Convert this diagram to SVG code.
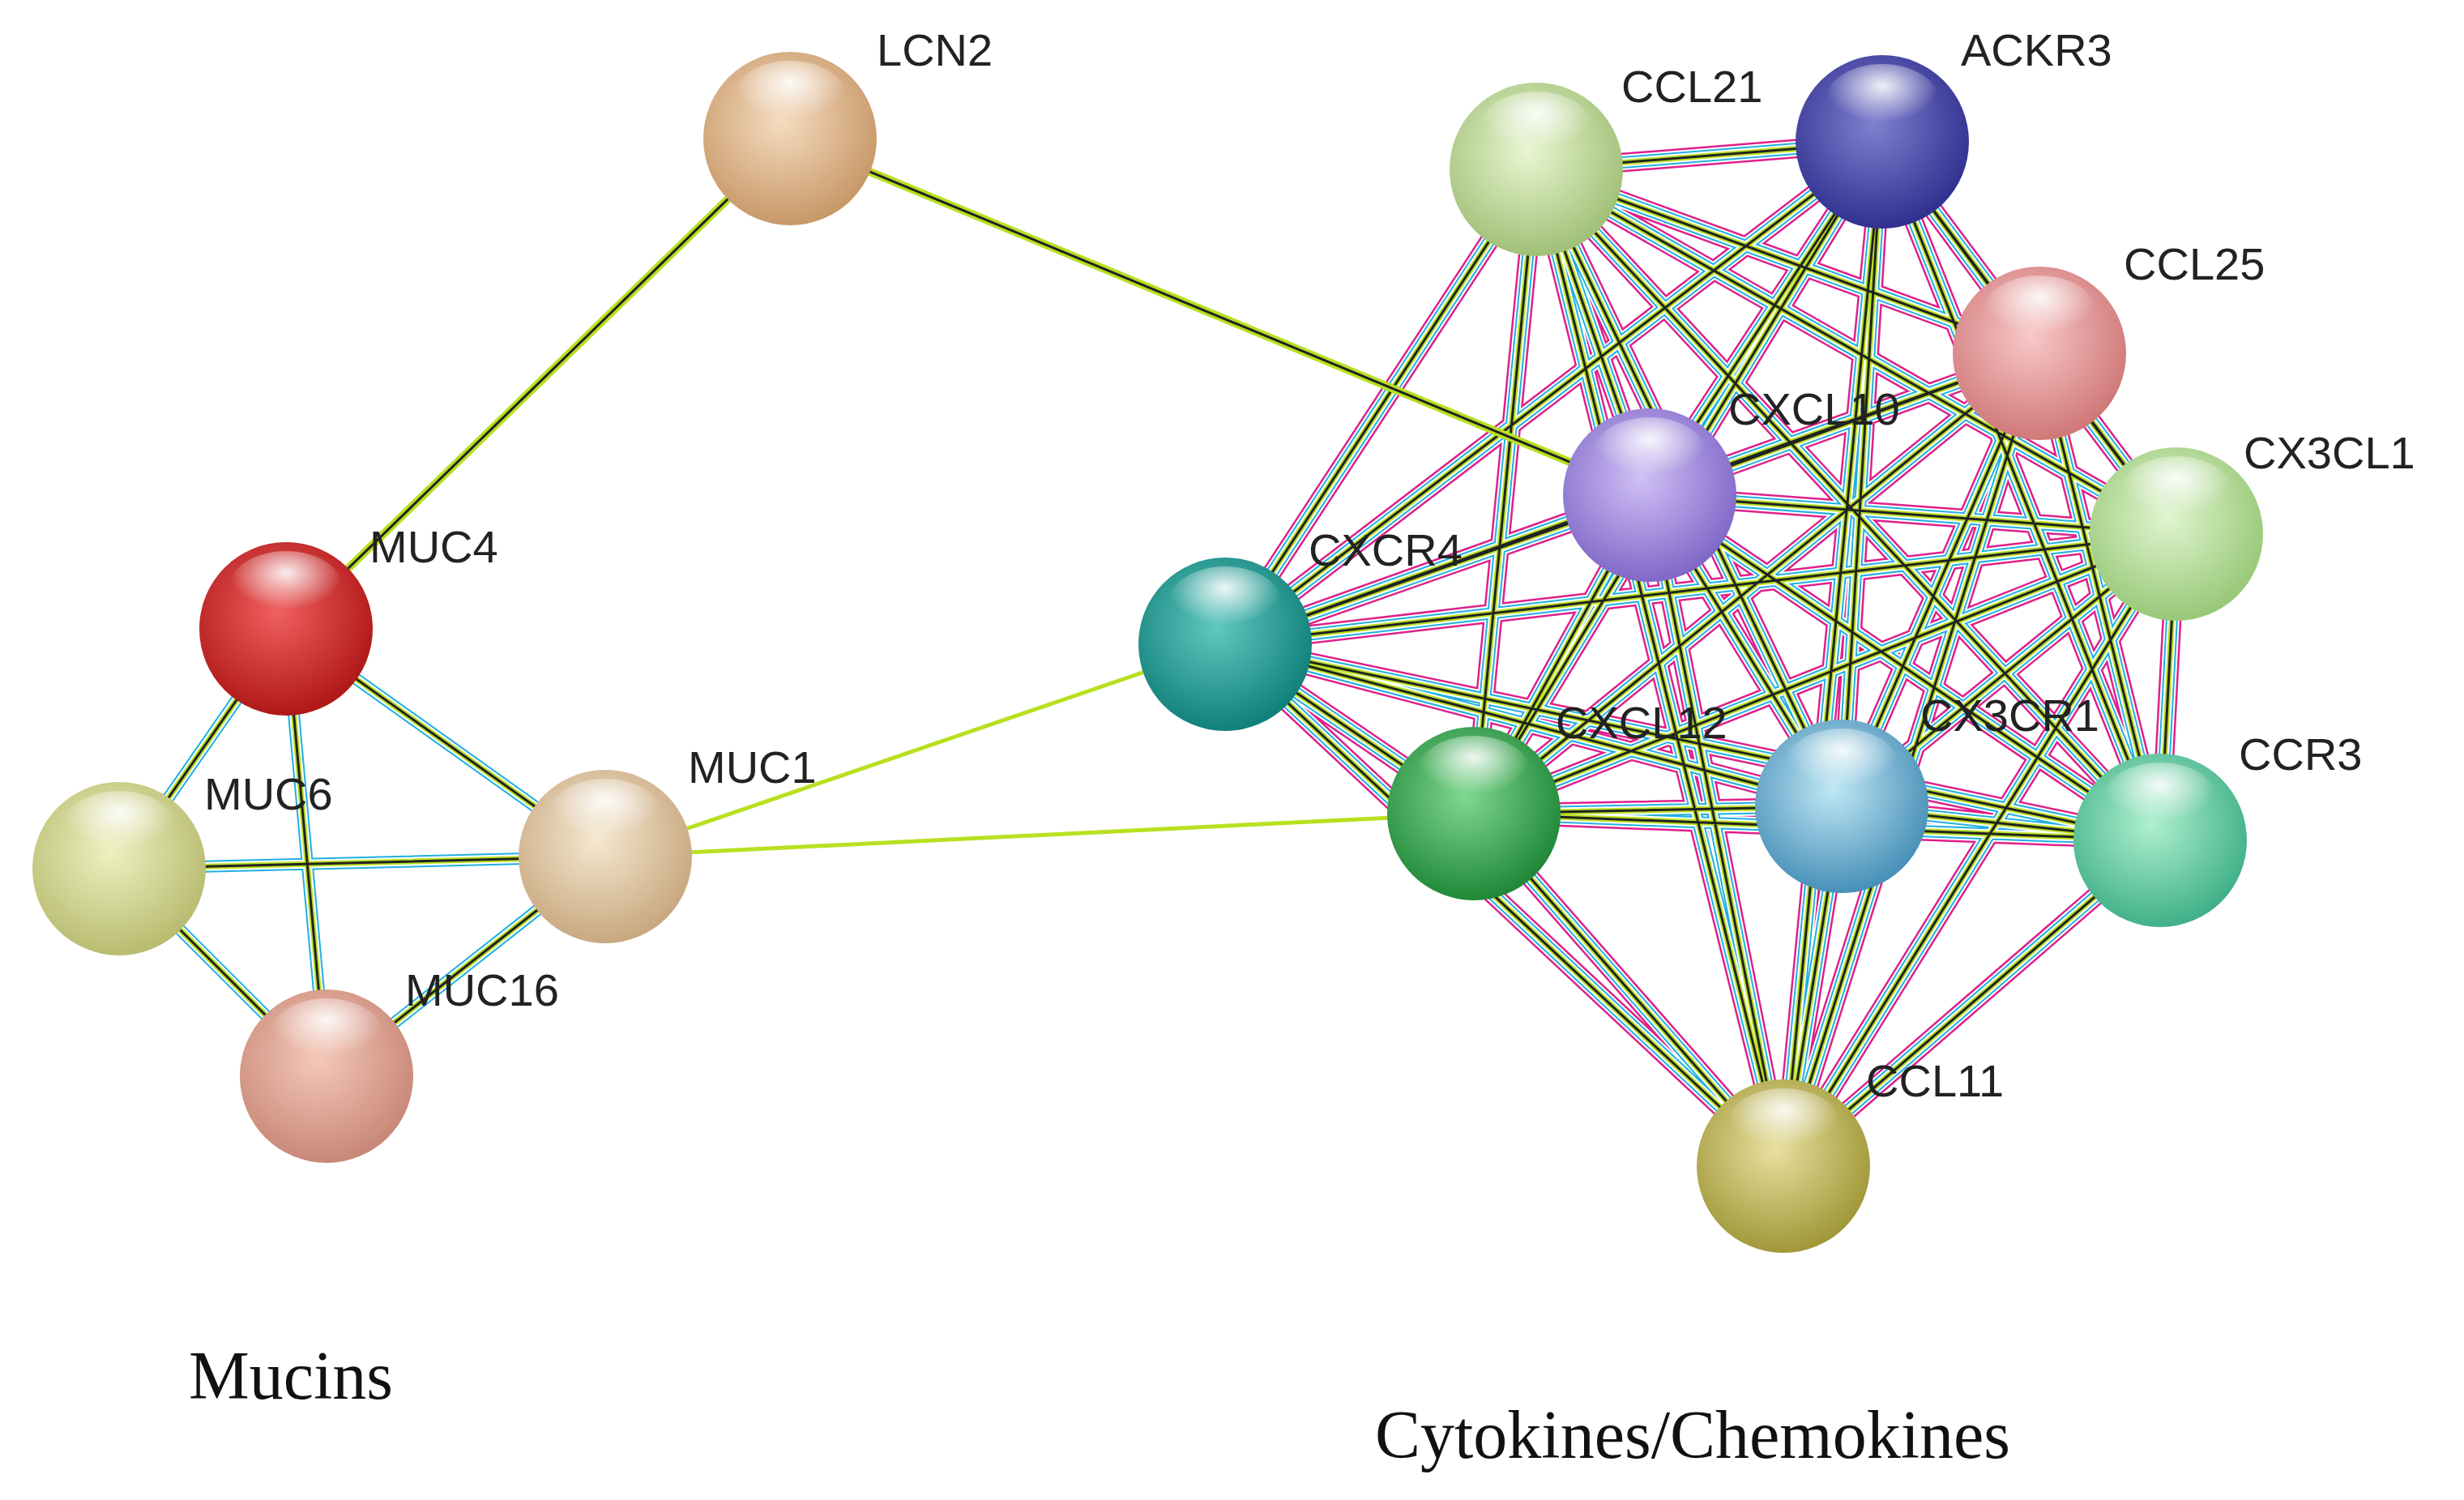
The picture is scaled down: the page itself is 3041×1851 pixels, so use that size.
<svg xmlns="http://www.w3.org/2000/svg" xmlns:xlink="http://www.w3.org/1999/xlink" width="3041" height="1851" viewBox="0 0 3041 1851">
<style>
.lbl{font-family:"Liberation Sans",Arial,sans-serif;font-size:56px;fill:#222}
.ttl{font-family:"Liberation Serif","Times New Roman",serif;font-size:84px;fill:#111}
.pk{stroke:#e0208a;stroke-width:24;fill:none}
.w1{stroke:#fff;stroke-width:19;fill:none}
.cy{stroke:#20b0e0;stroke-width:15;fill:none}
.w2{stroke:#fff;stroke-width:11;fill:none}
.ye{stroke:#b8e020;stroke-width:7;fill:none}
.bk{stroke:#222;stroke-width:3;fill:none}
.ny{stroke:#b8e020;stroke-width:5;fill:none}
.ny2{stroke:#b8e020;stroke-width:10;fill:none}
.hl{fill:url(#hi)}
</style>
<defs>
<radialGradient id="hi" cx="0.5" cy="0.3" r="0.5"><stop offset="0" stop-color="#fff" stop-opacity="0.9"/><stop offset="1" stop-color="#fff" stop-opacity="0"/></radialGradient>
<radialGradient id="gLCN2" cx="0.45" cy="0.4" r="0.6"><stop offset="0" stop-color="#f5dcc0"/><stop offset="1" stop-color="#c89868"/></radialGradient>
<radialGradient id="gMUC4" cx="0.45" cy="0.4" r="0.6"><stop offset="0" stop-color="#f06060"/><stop offset="1" stop-color="#b01818"/></radialGradient>
<radialGradient id="gMUC6" cx="0.45" cy="0.4" r="0.6"><stop offset="0" stop-color="#eef0c0"/><stop offset="1" stop-color="#b8bc70"/></radialGradient>
<radialGradient id="gMUC1" cx="0.45" cy="0.4" r="0.6"><stop offset="0" stop-color="#f5e8d0"/><stop offset="1" stop-color="#c8a880"/></radialGradient>
<radialGradient id="gMUC16" cx="0.45" cy="0.4" r="0.6"><stop offset="0" stop-color="#f5c8b8"/><stop offset="1" stop-color="#c88878"/></radialGradient>
<radialGradient id="gCXCR4" cx="0.45" cy="0.4" r="0.6"><stop offset="0" stop-color="#60c8c0"/><stop offset="1" stop-color="#10807a"/></radialGradient>
<radialGradient id="gCXCL10" cx="0.45" cy="0.4" r="0.6"><stop offset="0" stop-color="#d0c0f5"/><stop offset="1" stop-color="#8068c8"/></radialGradient>
<radialGradient id="gCCL21" cx="0.45" cy="0.4" r="0.6"><stop offset="0" stop-color="#e8f5d0"/><stop offset="1" stop-color="#a0c078"/></radialGradient>
<radialGradient id="gACKR3" cx="0.45" cy="0.4" r="0.6"><stop offset="0" stop-color="#8080d0"/><stop offset="1" stop-color="#303090"/></radialGradient>
<radialGradient id="gCCL25" cx="0.45" cy="0.4" r="0.6"><stop offset="0" stop-color="#f8c8c8"/><stop offset="1" stop-color="#d07878"/></radialGradient>
<radialGradient id="gCX3CL1" cx="0.45" cy="0.4" r="0.6"><stop offset="0" stop-color="#e0f5d0"/><stop offset="1" stop-color="#98c878"/></radialGradient>
<radialGradient id="gCCR3" cx="0.45" cy="0.4" r="0.6"><stop offset="0" stop-color="#b0f0d0"/><stop offset="1" stop-color="#40b088"/></radialGradient>
<radialGradient id="gCX3CR1" cx="0.45" cy="0.4" r="0.6"><stop offset="0" stop-color="#c0e8f5"/><stop offset="1" stop-color="#4890b8"/></radialGradient>
<radialGradient id="gCXCL12" cx="0.45" cy="0.4" r="0.6"><stop offset="0" stop-color="#80d890"/><stop offset="1" stop-color="#208838"/></radialGradient>
<radialGradient id="gCCL11" cx="0.45" cy="0.4" r="0.6"><stop offset="0" stop-color="#e8e0a0"/><stop offset="1" stop-color="#a09838"/></radialGradient>
<path id="full" d="M1512 795L2036 611M1512 795L1896 209M1512 795L2323 175M1512 795L2517 436M1512 795L2686 659M1512 795L2666 1037M1512 795L2273 995M1512 795L1819 1004M1512 795L2201 1439M2036 611L1896 209M2036 611L2323 175M2036 611L2517 436M2036 611L2686 659M2036 611L2666 1037M2036 611L2273 995M2036 611L1819 1004M2036 611L2201 1439M1896 209L2323 175M1896 209L2517 436M1896 209L2686 659M1896 209L2666 1037M1896 209L2273 995M1896 209L1819 1004M1896 209L2201 1439M2323 175L2517 436M2323 175L2686 659M2323 175L2666 1037M2323 175L2273 995M2323 175L1819 1004M2323 175L2201 1439M2517 436L2686 659M2517 436L2666 1037M2517 436L2273 995M2517 436L1819 1004M2517 436L2201 1439M2686 659L2666 1037M2686 659L2273 995M2686 659L1819 1004M2686 659L2201 1439M2666 1037L2273 995M2666 1037L1819 1004M2666 1037L2201 1439M2273 995L1819 1004M2273 995L2201 1439M1819 1004L2201 1439"/>
<path id="muc" d="M353 776L147 1072M353 776L403 1328M353 776L747 1057M147 1072L747 1057M147 1072L403 1328M747 1057L403 1328"/>
<path id="lcn" d="M975 171L353 776M975 171L2036 611"/>
</defs>
<rect width="3041" height="1851" fill="#fff"/>
<g id="connectors">
<use xlink:href="#full" class="pk"/><use xlink:href="#full" class="w1"/><use xlink:href="#full" class="cy"/><use xlink:href="#full" class="w2"/><use xlink:href="#full" class="ye"/><use xlink:href="#full" class="bk"/>
<use xlink:href="#muc" class="cy"/><use xlink:href="#muc" class="w2"/><use xlink:href="#muc" class="ye"/><use xlink:href="#muc" class="bk"/>
<use xlink:href="#lcn" class="ny2"/><use xlink:href="#lcn" class="bk"/>
<path d="M747 1057L1512 795M747 1057L1819 1004" class="ny"/>
</g>
<g id="LCN2"><circle cx="975" cy="171" r="107" fill="url(#gLCN2)"/><ellipse cx="975" cy="120" rx="70" ry="45" class="hl"/><text x="1082" y="81" class="lbl">LCN2</text></g>
<g id="MUC4"><circle cx="353" cy="776" r="107" fill="url(#gMUC4)"/><ellipse cx="353" cy="725" rx="70" ry="45" class="hl"/><text x="456" y="694" class="lbl">MUC4</text></g>
<g id="MUC6"><circle cx="147" cy="1072" r="107" fill="url(#gMUC6)"/><ellipse cx="147" cy="1021" rx="70" ry="45" class="hl"/><text x="252" y="999" class="lbl">MUC6</text></g>
<g id="MUC1"><circle cx="747" cy="1057" r="107" fill="url(#gMUC1)"/><ellipse cx="747" cy="1006" rx="70" ry="45" class="hl"/><text x="849" y="966" class="lbl">MUC1</text></g>
<g id="MUC16"><circle cx="403" cy="1328" r="107" fill="url(#gMUC16)"/><ellipse cx="403" cy="1277" rx="70" ry="45" class="hl"/><text x="500" y="1241" class="lbl">MUC16</text></g>
<g id="CXCR4"><circle cx="1512" cy="795" r="107" fill="url(#gCXCR4)"/><ellipse cx="1512" cy="744" rx="70" ry="45" class="hl"/><text x="1615" y="698" class="lbl">CXCR4</text></g>
<g id="CXCL10"><circle cx="2036" cy="611" r="107" fill="url(#gCXCL10)"/><ellipse cx="2036" cy="560" rx="70" ry="45" class="hl"/><text x="2133" y="524" class="lbl">CXCL10</text></g>
<g id="CCL21"><circle cx="1896" cy="209" r="107" fill="url(#gCCL21)"/><ellipse cx="1896" cy="158" rx="70" ry="45" class="hl"/><text x="2001" y="126" class="lbl">CCL21</text></g>
<g id="ACKR3"><circle cx="2323" cy="175" r="107" fill="url(#gACKR3)"/><ellipse cx="2323" cy="124" rx="70" ry="45" class="hl"/><text x="2420" y="81" class="lbl">ACKR3</text></g>
<g id="CCL25"><circle cx="2517" cy="436" r="107" fill="url(#gCCL25)"/><ellipse cx="2517" cy="385" rx="70" ry="45" class="hl"/><text x="2621" y="345" class="lbl">CCL25</text></g>
<g id="CX3CL1"><circle cx="2686" cy="659" r="107" fill="url(#gCX3CL1)"/><ellipse cx="2686" cy="608" rx="70" ry="45" class="hl"/><text x="2769" y="578" class="lbl">CX3CL1</text></g>
<g id="CCR3"><circle cx="2666" cy="1037" r="107" fill="url(#gCCR3)"/><ellipse cx="2666" cy="986" rx="70" ry="45" class="hl"/><text x="2763" y="950" class="lbl">CCR3</text></g>
<g id="CX3CR1"><circle cx="2273" cy="995" r="107" fill="url(#gCX3CR1)"/><ellipse cx="2273" cy="944" rx="70" ry="45" class="hl"/><text x="2370" y="902" class="lbl">CX3CR1</text></g>
<g id="CXCL12"><circle cx="1819" cy="1004" r="107" fill="url(#gCXCL12)"/><ellipse cx="1819" cy="953" rx="70" ry="45" class="hl"/><text x="1920" y="911" class="lbl">CXCL12</text></g>
<g id="CCL11"><circle cx="2201" cy="1439" r="107" fill="url(#gCCL11)"/><ellipse cx="2201" cy="1388" rx="70" ry="45" class="hl"/><text x="2303" y="1353" class="lbl">CCL11</text></g>
<text x="233" y="1726" class="ttl">Mucins</text>
<text x="1697" y="1799" class="ttl">Cytokines/Chemokines</text>
</svg>
